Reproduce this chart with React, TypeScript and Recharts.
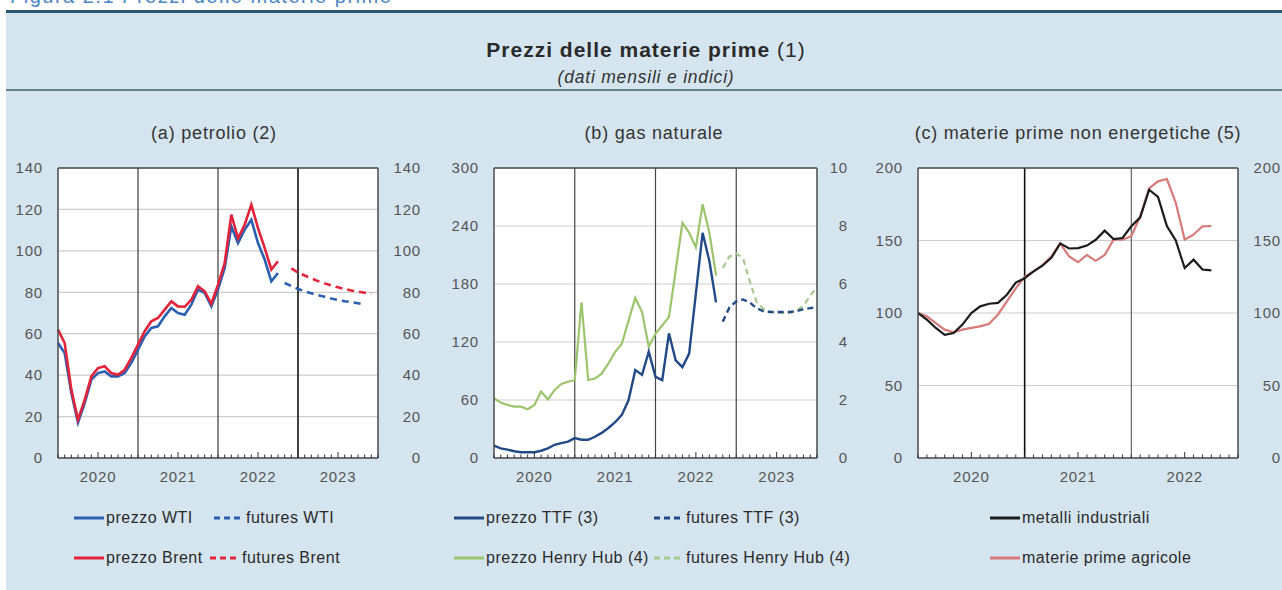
import React from 'react';
import { CartesianGrid, Line, LineChart, ReferenceLine, XAxis, YAxis } from 'recharts';

const FONT = 'Arial, "Liberation Sans", Helvetica, sans-serif';

// monthly series, first value = Jan 2020
const yearLabels = ['2020', '2021', '2022', '2023'];

// (a) petrolio
const wtiPrice = [55.5, 50.7, 31.4, 17.0, 26.5, 37.8, 41.0, 41.8, 39.4, 39.4, 41.0, 45.9, 52.3, 58.7, 62.8, 63.6, 68.4, 72.4, 70.0, 69.2, 74.0, 81.3, 79.7, 73.2, 81.3, 91.7, 111.8, 103.8, 110.2, 115.0, 103.8, 95.8, 85.3, 89.3];
const brentPrice = [62.0, 55.5, 33.0, 18.5, 28.0, 39.4, 43.4, 44.3, 41.0, 40.2, 42.6, 48.3, 54.7, 61.2, 66.0, 67.6, 71.6, 75.6, 73.2, 73.0, 76.4, 82.9, 80.5, 74.5, 83.7, 94.1, 117.5, 106.0, 112.6, 122.3, 111.0, 101.4, 91.0, 95.0];
const wtiFutures = [84.5, 83.0, 81.6, 80.5, 79.5, 78.6, 77.8, 77.0, 76.3, 75.7, 75.2, 74.7, 74.2];
const wtiFuturesFrom = '2022-11';
const brentFutures = [91.5, 89.6, 88.1, 86.7, 85.4, 84.3, 83.3, 82.4, 81.6, 80.9, 80.3, 79.8, 79.4];
const brentFuturesFrom = '2022-12';
const oilTicks = [0, 20, 40, 60, 80, 100, 120, 140];

// (b) gas naturale: TTF on left axis, Henry Hub on right axis
const ttfPrice = [12.7, 10.0, 8.6, 7.0, 6.0, 6.0, 6.0, 7.5, 10.0, 13.7, 15.4, 17.0, 20.6, 18.9, 18.9, 22.0, 26.0, 31.0, 37.0, 44.6, 60.0, 91.0, 86.0, 110.0, 84.0, 80.6, 129.0, 101.0, 94.0, 108.0, 170.0, 233.0, 204.0, 161.0];
const ttfFutures = [141, 156, 162, 164, 161, 155, 152, 151, 151, 151, 151, 152, 154, 155, 156];
const ttfFuturesFrom = '2022-11';
const hhPrice = [2.06, 1.91, 1.83, 1.77, 1.77, 1.68, 1.83, 2.29, 2.02, 2.34, 2.55, 2.63, 2.69, 5.37, 2.69, 2.74, 2.91, 3.26, 3.66, 3.94, 4.74, 5.52, 5.03, 3.83, 4.29, 4.57, 4.86, 6.46, 8.11, 7.77, 7.26, 8.75, 7.77, 6.3];
const hhFutures = [6.55, 6.95, 7.05, 6.9, 6.1, 5.4, 5.15, 5.05, 5.0, 5.0, 5.0, 5.1, 5.25, 5.6, 5.9];
const hhFuturesFrom = '2022-11';
const gasLeftTicks = [0, 60, 120, 180, 240, 300];
const gasRightTicks = [0, 2, 4, 6, 8, 10];

// (c) materie prime non energetiche (indici)
const metalli = [100, 95.4, 89.7, 85.0, 86.2, 92.0, 100.0, 104.6, 106.4, 107.0, 112.6, 121.0, 124.0, 128.7, 132.6, 138.0, 148.0, 144.5, 144.8, 146.5, 150.5, 156.8, 151.0, 151.7, 159.8, 166.0, 185.0, 180.0, 160.0, 150.0, 131.0, 136.8, 130.0, 129.4];
const agricole = [100, 97.7, 93.0, 88.5, 86.7, 88.5, 89.7, 90.8, 92.5, 99.0, 108.0, 117.0, 125.0, 128.7, 133.0, 139.0, 148.0, 139.0, 135.0, 140.0, 136.0, 140.0, 150.6, 150.6, 153.0, 166.7, 186.0, 190.8, 192.4, 176.0, 150.6, 154.0, 159.8, 160.0];
const nonEnergyLeftTicks = [0, 50, 100, 150, 200];
const nonEnergyRightTicks = [0, 50, 100, 150, 200];

const monthIdx = (ym: string) => {
  const [y, m] = ym.split('-').map(Number);
  return (y - 2020) * 12 + (m - 1);
};

function buildRows(n: number, series: Record<string, { values: number[]; from: string }>) {
  const rows: any[] = [];
  for (let i = 0; i <= n; i++) rows.push({ m: i });
  Object.entries(series).forEach(([key, s]) => {
    const start = monthIdx(s.from);
    s.values.forEach((v, k) => {
      if (rows[start + k]) rows[start + k][key] = v;
    });
  });
  return rows;
}

function monthTicks(n: number) {
  const t: number[] = [];
  for (let i = 0; i <= n; i++) t.push(i);
  return t;
}

const oilData = buildRows(48, {
  wti: { values: wtiPrice, from: '2020-01' },
  brent: { values: brentPrice, from: '2020-01' },
  wtiF: { values: wtiFutures, from: wtiFuturesFrom },
  brentF: { values: brentFutures, from: brentFuturesFrom },
});

const gasData = buildRows(48, {
  ttf: { values: ttfPrice, from: '2020-01' },
  ttfF: { values: ttfFutures, from: ttfFuturesFrom },
  hh: { values: hhPrice, from: '2020-01' },
  hhF: { values: hhFutures, from: hhFuturesFrom },
});

const nonEnergyData = buildRows(36, {
  met: { values: metalli, from: '2020-01' },
  agr: { values: agricole, from: '2020-01' },
});

const TICK_COLOR = '#555';
const FRAME = '#4a4a4a';

const MonthTick = (props: any) => {
  const { x, y, payload } = props;
  const v = payload.value;
  const mid = v % 12 === 6;
  return (
    <g>
      <line x1={x} x2={x} y1={y} y2={y - (mid ? 6 : 3.5)} stroke="#333" strokeWidth={1} />
      {mid && (
        <text x={x} y={y + 24} textAnchor="middle" fill={TICK_COLOR} fontSize={15} fontFamily={FONT} letterSpacing={0.8}>
          {yearLabels[Math.floor(v / 12)]}
        </text>
      )}
    </g>
  );
};

const valueTick = (props: any) => {
  const { x, y, payload, index } = props;
  return (
    <text key={index} x={x} y={y} dy={5.3} textAnchor="end" fill={TICK_COLOR} fontSize={15} fontFamily={FONT} letterSpacing={0.8}>
      {payload.value}
    </text>
  );
};

interface PanelProps {
  id: string;
  left: number;
  width: number;
  marginLeft: number;
  marginRight: number;
  rightWidth: number;
  rightTickMargin: number;
  months: number;
  data: any[];
  leftTicks: number[];
  rightTicks: number[];
  yearLines: { m: number; color: string; w: number }[];
  children: React.ReactNode;
}

function Panel(p: PanelProps) {
  const leftMax = p.leftTicks[p.leftTicks.length - 1];
  const rightMax = p.rightTicks[p.rightTicks.length - 1];
  return (
    <div style={{ position: 'absolute', left: p.left, top: 150, width: p.width, height: 340 }}>
      <LineChart
        id={p.id}
        width={p.width}
        height={340}
        data={p.data}
        margin={{ top: 18, right: p.marginRight, left: p.marginLeft, bottom: 2 }}
      >
        <CartesianGrid yAxisId="left" vertical={false} stroke="#cdcdcd" strokeWidth={1.2} fill="#ffffff" />
        <XAxis
          dataKey="m"
          type="number"
          domain={[0, p.months]}
          ticks={monthTicks(p.months)}
          interval={0}
          height={30}
          tickSize={0}
          tickMargin={0}
          tick={<MonthTick />}
          axisLine={{ stroke: FRAME, strokeWidth: 1.5 }}
          tickLine={false}
        />
        <YAxis
          yAxisId="left"
          type="number"
          width={50}
          domain={[0, leftMax]}
          ticks={p.leftTicks}
          interval={0}
          tickSize={0}
          tickMargin={15}
          tick={valueTick}
          tickLine={false}
          axisLine={{ stroke: FRAME, strokeWidth: 1.5 }}
        />
        <YAxis
          yAxisId="right"
          type="number"
          orientation="right"
          width={p.rightWidth}
          domain={[0, rightMax]}
          ticks={p.rightTicks}
          interval={0}
          tickSize={0}
          tickMargin={p.rightTickMargin}
          tick={valueTick}
          tickLine={false}
          axisLine={{ stroke: FRAME, strokeWidth: 1.5 }}
        />
        {p.yearLines.map((l) => (
          <ReferenceLine key={l.m} x={l.m} yAxisId="left" stroke={l.color} strokeWidth={l.w} />
        ))}
        <ReferenceLine y={leftMax} yAxisId="left" stroke={FRAME} strokeWidth={1.5} />
        {p.children}
      </LineChart>
    </div>
  );
}

const titleStyle: React.CSSProperties = {
  position: 'absolute',
  top: 122,
  fontSize: 18,
  letterSpacing: 0.8,
  color: '#333',
  whiteSpace: 'nowrap',
  transform: 'translateX(-50%)',
  lineHeight: '22px',
};

interface LegendItem {
  label: string;
  color: string;
  dashed?: boolean;
  x: number;
  y: number;
}

const legendItems: LegendItem[] = [
  { label: 'prezzo WTI', color: '#2b5fb0', x: 74, y: 518 },
  { label: 'futures WTI', color: '#2b5fb0', dashed: true, x: 214, y: 518 },
  { label: 'prezzo Brent', color: '#e3233a', x: 74, y: 558 },
  { label: 'futures Brent', color: '#e3233a', dashed: true, x: 210, y: 558 },
  { label: 'prezzo TTF (3)', color: '#224a86', x: 454, y: 518 },
  { label: 'futures TTF (3)', color: '#224a86', dashed: true, x: 654, y: 518 },
  { label: 'prezzo Henry Hub (4)', color: '#9cc46c', x: 454, y: 558 },
  { label: 'futures Henry Hub (4)', color: '#a9c98f', dashed: true, x: 654, y: 558 },
  { label: 'metalli industriali', color: '#1c1c1c', x: 990, y: 518 },
  { label: 'materie prime agricole', color: '#d77a78', x: 990, y: 558 },
];

function Legend() {
  return (
    <>
      {legendItems.map((it) => (
        <div
          key={it.label}
          style={{ position: 'absolute', left: it.x, top: it.y - 10, height: 20, display: 'flex', alignItems: 'center', whiteSpace: 'nowrap' }}
        >
          <svg width={30} height={6} style={{ display: 'block' }}>
            <line x1={0} x2={30} y1={3} y2={3} stroke={it.color} strokeWidth={3} strokeDasharray={it.dashed ? '6 4' : undefined} />
          </svg>
          <span style={{ fontSize: 16, letterSpacing: 0.5, color: '#2a2a2a', marginLeft: 2 }}>{it.label}</span>
        </div>
      ))}
    </>
  );
}

export default function App() {
  return (
    <div style={{ position: 'absolute', left: 0, top: 0, width: 1282, height: 590, overflow: 'hidden', background: '#fff', fontFamily: FONT }}>
      <div style={{ position: 'absolute', left: 10, top: -16, fontSize: 20, lineHeight: '24px', color: '#4a86c5', whiteSpace: 'nowrap', letterSpacing: 1.5 }}>
        Figura 2.1 Prezzi delle materie prime
      </div>
      <div style={{ position: 'absolute', left: 6, top: 10, width: 1276, height: 580, background: '#d5e5ef' }} />
      <div style={{ position: 'absolute', left: 6, top: 10, width: 1276, height: 3, background: '#2f5874' }} />
      <div style={{ position: 'absolute', left: 6, top: 89, width: 1276, height: 2, background: '#687f8e' }} />

      <div style={{ position: 'absolute', left: 646, top: 38, transform: 'translateX(-50%)', whiteSpace: 'nowrap', fontSize: 21, letterSpacing: 1, color: '#2a2a2a', lineHeight: '24px' }}>
        <b>Prezzi delle materie prime</b> (1)
      </div>
      <div style={{ position: 'absolute', left: 646, top: 67, transform: 'translateX(-50%)', whiteSpace: 'nowrap', fontSize: 17.5, fontStyle: 'italic', letterSpacing: 0.8, color: '#333', lineHeight: '20px' }}>
        (dati mensili e indici)
      </div>

      <div style={{ ...titleStyle, left: 214 }}>(a) petrolio (2)</div>
      <div style={{ ...titleStyle, left: 654 }}>(b) gas naturale</div>
      <div style={{ ...titleStyle, left: 1078 }}>(c) materie prime non energetiche (5)</div>

      <Panel
        id="petrolio"
        left={0}
        width={440}
        marginLeft={8}
        marginRight={12}
        rightWidth={50}
        rightTickMargin={43}
        months={48}
        data={oilData}
        leftTicks={oilTicks}
        rightTicks={oilTicks}
        yearLines={[
          { m: 12, color: '#3a3a3a', w: 1.2 },
          { m: 24, color: '#3a3a3a', w: 1.2 },
          { m: 36, color: '#111', w: 1.6 },
        ]}
      >
        <Line yAxisId="left" dataKey="wti" stroke="#2b5fb0" strokeWidth={2.6} dot={false} isAnimationActive={false} />
        <Line yAxisId="left" dataKey="brent" stroke="#e3233a" strokeWidth={2.6} dot={false} isAnimationActive={false} />
        <Line yAxisId="right" dataKey="wtiF" stroke="#2b5fb0" strokeWidth={2.6} strokeDasharray="7 5" dot={false} isAnimationActive={false} />
        <Line yAxisId="right" dataKey="brentF" stroke="#e3233a" strokeWidth={2.6} strokeDasharray="7 5" dot={false} isAnimationActive={false} />
      </Panel>

      <Panel
        id="gas"
        left={440}
        width={430}
        marginLeft={4}
        marginRight={8}
        rightWidth={45}
        rightTickMargin={31}
        months={48}
        data={gasData}
        leftTicks={gasLeftTicks}
        rightTicks={gasRightTicks}
        yearLines={[
          { m: 12, color: '#444', w: 1.2 },
          { m: 24, color: '#444', w: 1.2 },
          { m: 36, color: '#444', w: 1.2 },
        ]}
      >
        <Line yAxisId="right" dataKey="hh" stroke="#9cc46c" strokeWidth={2.2} dot={false} isAnimationActive={false} />
        <Line yAxisId="right" dataKey="hhF" stroke="#a9c98f" strokeWidth={2.2} strokeDasharray="6 4" dot={false} isAnimationActive={false} />
        <Line yAxisId="left" dataKey="ttf" stroke="#224a86" strokeWidth={2.4} dot={false} isAnimationActive={false} />
        <Line yAxisId="left" dataKey="ttfF" stroke="#224a86" strokeWidth={2.4} strokeDasharray="6 4" dot={false} isAnimationActive={false} />
      </Panel>

      <Panel
        id="nonenergetiche"
        left={860}
        width={422}
        marginLeft={8}
        marginRight={0}
        rightWidth={44}
        rightTickMargin={43}
        months={36}
        data={nonEnergyData}
        leftTicks={nonEnergyLeftTicks}
        rightTicks={nonEnergyRightTicks}
        yearLines={[
          { m: 12, color: '#111', w: 1.6 },
          { m: 24, color: '#666', w: 1.2 },
        ]}
      >
        <Line yAxisId="right" dataKey="agr" stroke="#d77a78" strokeWidth={2.2} dot={false} isAnimationActive={false} />
        <Line yAxisId="left" dataKey="met" stroke="#1c1c1c" strokeWidth={2.2} dot={false} isAnimationActive={false} />
      </Panel>

      <Legend />
    </div>
  );
}
